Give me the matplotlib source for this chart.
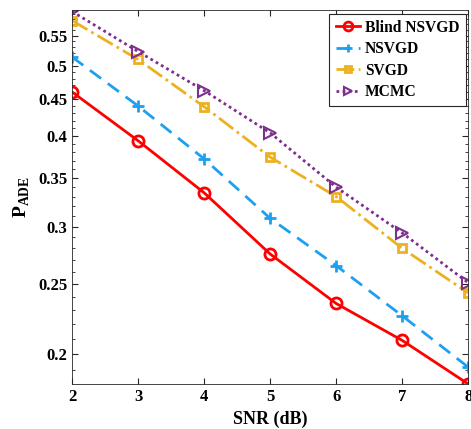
import matplotlib
matplotlib.use("Agg")
import matplotlib.pyplot as plt
from matplotlib.ticker import FixedLocator, FixedFormatter, LogLocator, NullFormatter

snr = [2, 3, 4, 5, 6, 7, 8]
blind_nsvgd = [0.460, 0.394, 0.334, 0.275, 0.235, 0.209, 0.182]
nsvgd = [0.514, 0.440, 0.372, 0.308, 0.265, 0.226, 0.192]
svgd = [0.577, 0.510, 0.439, 0.374, 0.330, 0.280, 0.243]
mcmc = [0.594, 0.523, 0.462, 0.404, 0.340, 0.294, 0.251]
yticks = [0.2, 0.25, 0.3, 0.35, 0.4, 0.45, 0.5, 0.55]
ytick_labels = ["0.2", "0.25", "0.3", "0.35", "0.4", "0.45", "0.5", "0.55"]

plt.rcParams['font.family'] = ['Liberation Serif']
plt.rcParams['font.weight'] = 'bold'
plt.rcParams['mathtext.fontset'] = 'custom'
plt.rcParams['mathtext.rm'] = 'Liberation Serif:bold'
plt.rcParams['mathtext.bf'] = 'Liberation Serif:bold'

fig = plt.figure(figsize=(4.71, 4.29), dpi=100)
ax = fig.add_axes([0.153, 0.105, 0.841, 0.872])

ax.plot(snr, blind_nsvgd, '-', color='#FF0000', lw=2, marker='o', ms=8, mfc='none', mew=2, label='Blind NSVGD')
ax.plot(snr, nsvgd, '--', color='#1EA0F0', lw=2, marker='+', ms=8, mew=2, label='NSVGD', dashes=(5, 3))
ax.plot(snr, svgd, '-.', color='#EDB120', lw=2, marker='s', ms=6, mfc='none', mew=2, label='SVGD')
ax.plot(snr, mcmc, color='#7E2F8E', lw=2, marker='>', ms=8, mfc='none', mew=1.5, label='MCMC',
        linestyle=(0, (1, 1.2)))

ax.set_yscale('log')
ax.set_xlim(2, 8)
ax.set_ylim(0.182, 0.597)
ax.yaxis.set_major_locator(FixedLocator(yticks))
ax.yaxis.set_major_formatter(FixedFormatter(ytick_labels))
ax.yaxis.set_minor_locator(LogLocator(base=10, subs=[i/100 for i in range(10, 100)], numticks=100))
ax.yaxis.set_minor_formatter(NullFormatter())
ax.set_xticks(snr)
ax.tick_params(which='both', direction='in', top=True, right=True, labelsize=12, colors='#262626')
ax.tick_params(which='major', length=4)
ax.tick_params(which='minor', length=2)
for lab in ax.get_xticklabels() + ax.get_yticklabels():
    lab.set_fontweight('bold')
    lab.set_color('black')
for s in ax.spines.values():
    s.set_color('#262626')
    s.set_linewidth(0.6)

ax.set_xlabel('SNR (dB)', fontsize=13, fontweight='bold')
ax.set_ylabel(r'$\mathrm{P}_{\mathrm{ADE}}$', fontsize=14)

leg = ax.legend(loc='upper right', prop={'weight': 'bold', 'size': 11.2}, fancybox=False,
                edgecolor='#262626', handlelength=1.6, handletextpad=0.3, borderpad=0.4,
                labelspacing=0.35, framealpha=1, bbox_to_anchor=(0.994, 0.99),
                borderaxespad=0.0, markerscale=0.8)
leg.get_frame().set_linewidth(0.8)

fig.savefig('out.png', dpi=100)
